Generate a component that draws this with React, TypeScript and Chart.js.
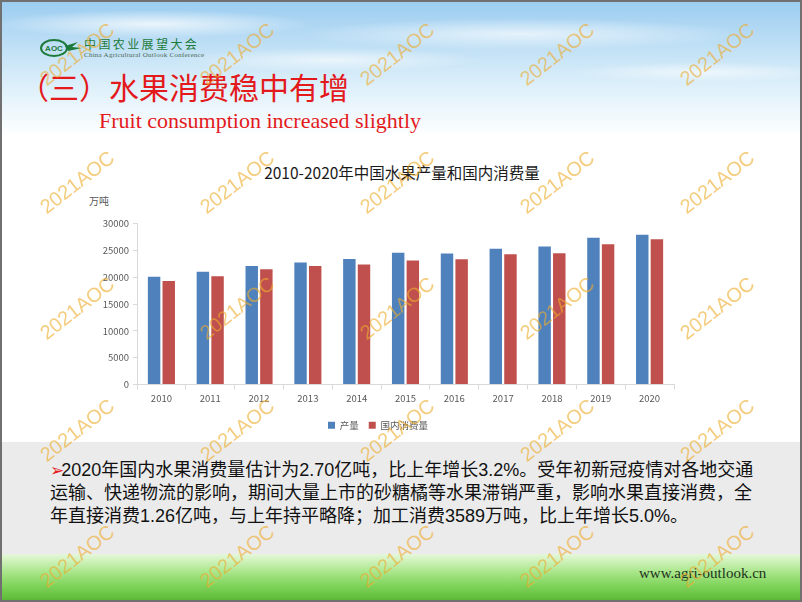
import React, { useEffect, useRef } from "react";
import { Chart, registerables } from "chart.js";

Chart.register(...registerables);

const years = ["2010", "2011", "2012", "2013", "2014", "2015", "2016", "2017", "2018", "2019", "2020"];
const production = [20100, 21050, 22100, 22780, 23400, 24570, 24440, 25310, 25740, 27400, 27960];
const consumption = [19320, 20180, 21480, 22100, 22400, 23150, 23390, 24320, 24500, 26170, 27100];
const seriesNames = ["产量", "国内消费量"];
const seriesColors = ["#4F81BD", "#C0504D"];
const yMin = 0;
const yMax = 30000;
const yStep = 5000;

const chartTitle = "2010-2020年中国水果产量和国内消费量";
const yUnit = "万吨";
const slideTitle = "（三）水果消费稳中有增";
const slideSubtitle = "Fruit consumption increased slightly";
const bodyLines = [
  "2020年国内水果消费量估计为2.70亿吨，比上年增长3.2%。受年初新冠疫情对各地交通",
  "运输、快递物流的影响，期间大量上市的砂糖橘等水果滞销严重，影响水果直接消费，全",
  "年直接消费1.26亿吨，与上年持平略降；加工消费3589万吨，比上年增长5.0%。",
];
const footer = "www.agri-outlook.cn";
const watermark = "2021AOC";
const wmCols = [75, 235, 395, 555, 715];
const wmRows = [52, 180, 306, 428, 554];

const CJK = '"Noto Sans CJK SC", "Microsoft YaHei", sans-serif';

function BarChart() {
  const ref = useRef<HTMLCanvasElement | null>(null);
  useEffect(() => {
    if (!ref.current) return;
    const tickFont = { family: CJK, size: 9.5 };
    const chart = new Chart(ref.current, {
      type: "bar",
      data: {
        labels: years,
        datasets: [
          {
            label: seriesNames[0],
            data: production,
            backgroundColor: seriesColors[0],
            borderWidth: 0,
            barPercentage: 0.85,
            categoryPercentage: 0.6,
          },
          {
            label: seriesNames[1],
            data: consumption,
            backgroundColor: seriesColors[1],
            borderWidth: 0,
            barPercentage: 0.85,
            categoryPercentage: 0.6,
          },
        ],
      },
      options: {
        animation: false,
        responsive: false,
        layout: { padding: { top: 8, right: 8, left: 0, bottom: 0 } },
        plugins: {
          legend: {
            position: "bottom",
            labels: {
              boxWidth: 7,
              boxHeight: 7,
              padding: 10,
              color: "#595959",
              font: { family: CJK, size: 9.5 },
            },
          },
          tooltip: { enabled: false },
        },
        scales: {
          x: {
            grid: { drawOnChartArea: false, tickLength: 5, color: "#d9d9d9" },
            border: { color: "#d9d9d9" },
            ticks: { color: "#595959", font: tickFont, padding: 3, maxRotation: 0 },
            afterFit: (s: any) => {
              s.height = 26;
            },
          },
          y: {
            min: yMin,
            max: yMax,
            grid: { drawOnChartArea: false, tickLength: 4, color: "#d9d9d9" },
            border: { color: "#d9d9d9" },
            ticks: {
              stepSize: yStep,
              color: "#595959",
              font: tickFont,
              padding: 4,
              callback: (v: any) => String(v),
            },
            afterFit: (s: any) => {
              s.width = 55;
            },
          },
        },
      },
    } as any);
    return () => chart.destroy();
  }, []);
  return <canvas ref={ref} width={600} height={226} style={{ display: "block" }} />;
}

export default function App() {
  return (
    <div
      style={{
        position: "absolute",
        left: 0,
        top: 0,
        width: 802,
        height: 602,
        boxSizing: "border-box",
        border: "2px solid #707070",
        overflow: "hidden",
        background: "#ffffff",
      }}
    >
      {/* sky */}
      <div
        style={{
          position: "absolute",
          left: 0,
          top: 0,
          width: 802,
          height: 140,
          background:
            "radial-gradient(ellipse 160px 14px at 150px 22px, rgba(255,255,255,0.75), rgba(255,255,255,0)), radial-gradient(ellipse 220px 16px at 520px 32px, rgba(255,255,255,0.65), rgba(255,255,255,0)), radial-gradient(ellipse 150px 12px at 330px 58px, rgba(255,255,255,0.6), rgba(255,255,255,0)), radial-gradient(ellipse 130px 10px at 700px 70px, rgba(255,255,255,0.6), rgba(255,255,255,0)), linear-gradient(to bottom, #9ccdf0 0px, #bcdef5 40px, #def0fa 85px, #ffffff 135px)",
        }}
      />
      {/* gray band */}
      <div
        style={{
          position: "absolute",
          left: 0,
          top: 440,
          width: 802,
          height: 112,
          background: "#ebebeb",
        }}
      />
      {/* grass */}
      <div
        style={{
          position: "absolute",
          left: 0,
          top: 552,
          width: 802,
          height: 50,
          background:
            "linear-gradient(to bottom, #e6f7dc 0px, #d2f3bf 6px, #a9e68a 18px, #7fd35a 32px, #62bf3c 44px, #4d9e30 50px)",
        }}
      />
      {/* logo */}
      <svg
        style={{ position: "absolute", left: 36, top: 34 }}
        width={46}
        height={26}
        viewBox="0 0 46 26"
      >
        <ellipse cx={16} cy={12} rx={13} ry={8} fill="none" stroke="#1d7a3a" strokeWidth={2} />
        <path d="M27 10 L40 6 L34 11 L44 12 L30 15 Z" fill="#1d7a3a" />
        <text x={16} y={15} textAnchor="middle" fontSize={8} fontWeight="bold" fill="#1d7a3a" fontFamily="Liberation Sans">
          AOC
        </text>
      </svg>
      <div
        style={{
          position: "absolute",
          left: 82,
          top: 35,
          fontFamily: CJK,
          fontSize: 12,
          lineHeight: "14px",
          letterSpacing: 2.4,
          color: "#1d7a3a",
          whiteSpace: "nowrap",
        }}
      >
        中国农业展望大会
      </div>
      <div
        style={{
          position: "absolute",
          left: 82,
          top: 49,
          fontFamily: '"Liberation Serif", serif',
          fontSize: 7,
          lineHeight: "8px",
          letterSpacing: 0.25,
          color: "#4a6a55",
          whiteSpace: "nowrap",
        }}
      >
        China Agricultural Outlook Conference
      </div>
      {/* slide title */}
      <div
        style={{
          position: "absolute",
          left: 17,
          top: 69,
          fontFamily: CJK,
          fontSize: 30,
          lineHeight: "30px",
          color: "#e3191c",
          whiteSpace: "nowrap",
        }}
      >
        {slideTitle}
      </div>
      <div
        style={{
          position: "absolute",
          left: 97,
          top: 108,
          fontFamily: '"Liberation Serif", "Times New Roman", serif',
          fontSize: 22,
          lineHeight: "22px",
          color: "#e3191c",
          whiteSpace: "nowrap",
        }}
      >
        {slideSubtitle}
      </div>
      {/* chart title */}
      <div
        style={{
          position: "absolute",
          left: 200,
          width: 400,
          top: 162,
          textAlign: "center",
          fontFamily: CJK,
          fontSize: 15.5,
          lineHeight: "17px",
          color: "#1a1a1a",
          whiteSpace: "nowrap",
        }}
      >
        {chartTitle}
      </div>
      <div
        style={{
          position: "absolute",
          left: 87,
          top: 193,
          fontFamily: CJK,
          fontSize: 10,
          lineHeight: "12px",
          color: "#595959",
        }}
      >
        {yUnit}
      </div>
      <div style={{ position: "absolute", left: 80, top: 212, width: 600, height: 226 }}>
        <BarChart />
      </div>
      {/* body text */}
      <div
        style={{
          position: "absolute",
          left: 48,
          top: 457,
          fontFamily: '"Liberation Sans", ' + CJK,
          fontSize: 18,
          lineHeight: "23px",
          color: "#111111",
          whiteSpace: "nowrap",
        }}
      >
        {bodyLines.map((line, i) => (
          <div key={i}>
            {i === 0 ? (
              <span
                style={{
                  color: "#e3191c",
                  fontSize: 17,
                  lineHeight: "18px",
                  marginRight: -3,
                  fontFamily: '"DejaVu Sans", sans-serif',
                }}
              >
                ➢
              </span>
            ) : null}
            {line}
          </div>
        ))}
      </div>
      <div
        style={{
          position: "absolute",
          left: 637,
          top: 562,
          fontFamily: '"Liberation Serif", "Times New Roman", serif',
          fontSize: 15,
          lineHeight: "18px",
          color: "#1e3320",
          whiteSpace: "nowrap",
        }}
      >
        {footer}
      </div>
      {/* watermarks */}
      {wmRows.map((cy) =>
        wmCols.map((cx) => (
          <div
            key={cx + "-" + cy}
            style={{
              position: "absolute",
              left: cx,
              top: cy,
              transform: "translate(-50%, -50%) rotate(-38deg)",
              fontFamily: '"Liberation Sans", Arial, sans-serif',
              fontSize: 20,
              lineHeight: "22px",
              color: "rgba(238, 172, 45, 0.62)",
              whiteSpace: "nowrap",
              pointerEvents: "none",
            }}
          >
            {watermark}
          </div>
        ))
      )}
    </div>
  );
}
